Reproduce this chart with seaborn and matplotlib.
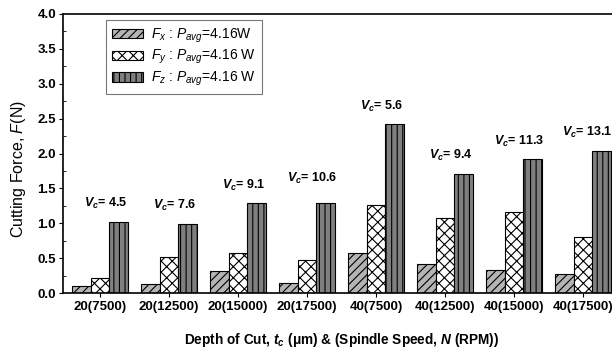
import matplotlib
matplotlib.use("Agg")
import matplotlib.pyplot as plt
from matplotlib.ticker import MultipleLocator, FormatStrFormatter
from matplotlib.patches import Patch
import numpy as np
import pandas as pd
import seaborn as sns

# ---------------- data ----------------
categories = ['20(7500)', '20(12500)', '20(15000)', '20(17500)',
              '40(7500)', '40(12500)', '40(15000)', '40(17500)']
fx = [0.10, 0.13, 0.31, 0.15, 0.58, 0.41, 0.33, 0.27]
fy = [0.22, 0.52, 0.58, 0.47, 1.26, 1.07, 1.16, 0.81]
fz = [1.02, 0.99, 1.29, 1.29, 2.42, 1.71, 1.92, 2.04]
vc_values = ['4.5', '7.6', '9.1', '10.6', '5.6', '9.4', '11.3', '13.1']
series_labels = [r'$\mathit{F}_{x}$ : $\mathit{P}_{avg}$=4.16W',
                 r'$\mathit{F}_{y}$ : $\mathit{P}_{avg}$=4.16 W',
                 r'$\mathit{F}_{z}$ : $\mathit{P}_{avg}$=4.16 W']

# ---------------- style ----------------
plt.rcParams['font.family'] = ['Liberation Sans', 'DejaVu Sans']
plt.rcParams['mathtext.fontset'] = 'custom'
plt.rcParams['mathtext.rm'] = 'Liberation Sans'
plt.rcParams['mathtext.it'] = 'Liberation Sans:italic'
plt.rcParams['mathtext.bf'] = 'Liberation Sans:bold'
plt.rcParams['mathtext.bfit'] = 'Liberation Sans:bold:italic'
plt.rcParams['hatch.linewidth'] = 0.8
plt.rcParams['hatch.color'] = 'black'

series_colors = ['#b4b4b4', '#ffffff', '#7f7f7f']
series_hatches = ['////', 'xxx', '|||']
label_offsets_pt = [13, 13, 13, 18, 13, 13, 13, 13]
label_dx_pt = [4, 4, 4, 4, 4, 4, 4, 3]

df = pd.DataFrame({
    'cat': categories * 3,
    'force': fx + fy + fz,
    'series': [series_labels[0]] * len(categories)
              + [series_labels[1]] * len(categories)
              + [series_labels[2]] * len(categories),
})

fig = plt.figure(figsize=(6.12, 3.51), dpi=100)
ax = fig.add_axes([63 / 612, 58 / 351, 557 / 612, 279 / 351])

sns.barplot(data=df, x='cat', y='force', hue='series', order=categories,
            hue_order=series_labels, palette=dict(zip(series_labels, series_colors)),
            width=0.8, edgecolor='black', linewidth=0.8, saturation=1,
            errorbar=None, legend=False, ax=ax)

for cont, h in zip(ax.containers, series_hatches):
    for bar in cont:
        bar.set_hatch(h)

ax.set_xlim(-0.536, 7.536)
ax.set_ylim(0, 4.0)
ax.yaxis.set_major_locator(MultipleLocator(0.5))
ax.yaxis.set_minor_locator(MultipleLocator(0.25))
ax.yaxis.set_major_formatter(FormatStrFormatter('%.1f'))
ax.tick_params(axis='y', which='major', direction='out', length=3, width=0.8,
               labelsize=9.5, pad=2)
ax.tick_params(axis='y', which='minor', direction='in', length=2, width=0.6)
ax.tick_params(axis='x', which='major', direction='out', length=3, width=0.8,
               labelsize=9.5, pad=3)
for lab in ax.get_xticklabels() + ax.get_yticklabels():
    lab.set_fontweight('bold')
for s in ax.spines.values():
    s.set_linewidth(1.2)

ax.set_ylabel(r'Cutting Force, $\mathit{F}$(N)', fontsize=11.5)
ax.yaxis.set_label_coords(-0.062, 0.445)
ax.set_xlabel(r'Depth of Cut, $\mathbfit{t}_{\mathbfit{c}}$ (μm) & (Spindle Speed, $\mathbfit{N}$ (RPM))',
              fontsize=9.8, fontweight='bold', labelpad=13)

for i, (v, z) in enumerate(zip(vc_values, fz)):
    ax.annotate(r'$\mathbfit{V}_{\mathbfit{c}}$= ' + v, xy=(i, z),
                xytext=(label_dx_pt[i], label_offsets_pt[i]), textcoords='offset points',
                ha='center', va='center', fontsize=9, fontweight='bold')

handles = [Patch(facecolor=c, edgecolor='black', hatch=h, linewidth=0.8)
           for c, h in zip(series_colors, series_hatches)]
leg = ax.legend(handles, series_labels, loc='upper left',
                bbox_to_anchor=(0.077, 0.978), borderaxespad=0,
                fontsize=10, frameon=True, fancybox=False, edgecolor='#555555',
                handlelength=2.2, handleheight=0.65, labelspacing=0.25,
                handletextpad=0.6, borderpad=0.45)
leg.get_frame().set_linewidth(0.8)

fig.savefig('out.png', dpi=100)
